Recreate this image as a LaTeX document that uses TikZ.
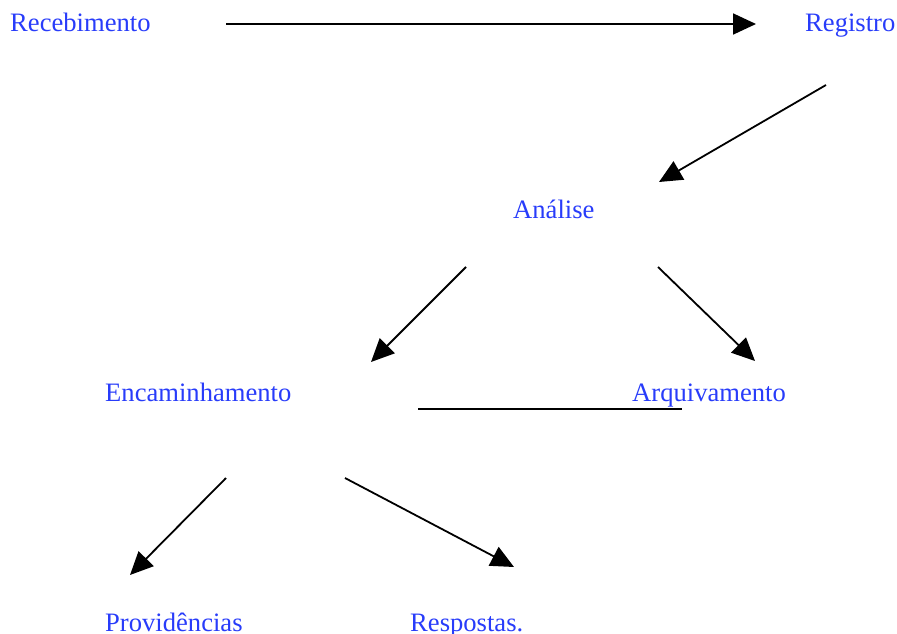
\documentclass[tikz,border=0pt]{standalone}
\usepackage{fontspec}
\setmainfont{Liberation Serif}
\usetikzlibrary{arrows.meta}
\definecolor{lblue}{RGB}{40,60,250}
\begin{document}
\begin{tikzpicture}[x=1pt,y=-1pt,
  lbl/.style={anchor=base west,inner sep=0pt,text=lblue,font=\fontsize{26.6}{30}\selectfont},
  conn/.style={line width=1.8pt,-{Triangle[length=23pt,width=21pt]}},
  plain/.style={line width=1.8pt}]
\useasboundingbox (0,0) rectangle (897,634);
\node[lbl] (rec) at (10,32) {Recebimento};
\node[lbl] (reg) at (805,32) {Registro};
\node[lbl] (ana) at (513,218) {Análise};
\node[lbl] (enc) at (105,401) {Encaminhamento};
\node[lbl] (arq) at (632,401) {Arquivamento};
\node[lbl] (prov) at (105,631) {Providências};
\node[lbl] (resp) at (410,631) {Respostas.};
\coordinate (a1s) at (226,24); \coordinate (a1e) at (756,24);
\coordinate (a2s) at (826,85); \coordinate (a2e) at (659,182);
\coordinate (a3s) at (466,267); \coordinate (a3e) at (371,362);
\coordinate (a4s) at (658,267); \coordinate (a4e) at (755,361);
\coordinate (l1s) at (418,409); \coordinate (l1e) at (682,409);
\coordinate (a5s) at (226,478); \coordinate (a5e) at (130,575);
\coordinate (a6s) at (345,478); \coordinate (a6e) at (514,567);
\draw[conn] (a1s) -- (a1e);
\draw[conn] (a2s) -- (a2e);
\draw[conn] (a3s) -- (a3e);
\draw[conn] (a4s) -- (a4e);
\draw[plain] (l1s) -- (l1e);
\draw[conn] (a5s) -- (a5e);
\draw[conn] (a6s) -- (a6e);
\end{tikzpicture}
\end{document}
